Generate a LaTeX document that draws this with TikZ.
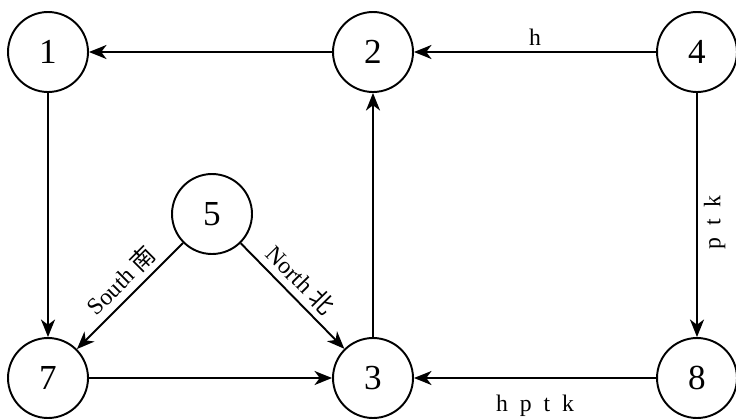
\documentclass[tikz,border=0pt]{standalone}
\usepackage{fontspec}
\setmainfont{Liberation Serif}
\newfontfamily\cjk{Noto Sans CJK SC}
\usetikzlibrary{arrows.meta}

\begin{document}
\begin{tikzpicture}[x=0.02cm, y=-0.02cm, line width=1.1pt,
    state/.style={draw, circle, minimum size=1.6cm, inner sep=0pt,
        font=\fontsize{20}{22}\selectfont},
    lbl/.style={font=\fontsize{13.5}{15}\selectfont},
    >={Stealth[length=10pt, width=8pt, inset=3pt]}]
    \useasboundingbox (0,0) rectangle (736,419);

    % states
    \node[state] (n1) at (48, 52) {1};
    \node[state] (n2) at (373, 52) {2};
    \node[state] (n4) at (697, 52) {4};
    \node[state] (n5) at (212, 214) {5};
    \node[state] (n7) at (48, 378) {7};
    \node[state] (n3) at (373, 378) {3};
    \node[state] (n8) at (697, 378) {8};

    % transitions
    \draw[->] (n2) -- (n1);
    \draw[->] (n4) -- (n2) node[midway, above, lbl] {h};
    \draw[->] (n1) -- (n7);
    \draw[->] (n4) -- (n8) node[pos=0.53, rotate=90, anchor=north, lbl] {p\enspace t\enspace k};
    \draw[->] (n5) -- (n7) node[pos=0.47, sloped, above, lbl] {South {\cjk 南}};
    \draw[->] (n5) -- (n3) node[pos=0.46, sloped, above, lbl] {North {\cjk 北}};
    \draw[->] (n7) -- (n3);
    \draw[->] (n3) -- (n2);
    \draw[->] (n8) -- (n3) node[midway, below=6pt, lbl] {h\enspace p\enspace t\enspace k};
\end{tikzpicture}
\end{document}
